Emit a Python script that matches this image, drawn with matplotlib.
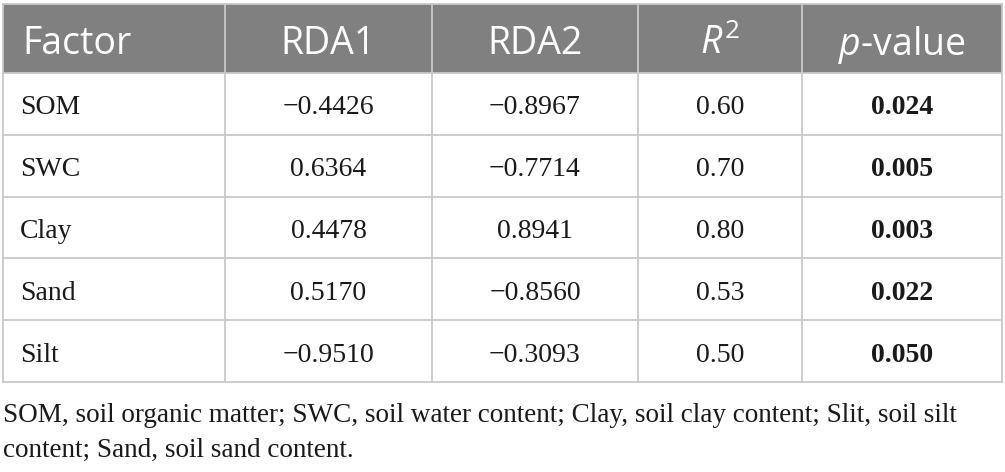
import matplotlib
matplotlib.use("Agg")
import matplotlib.pyplot as plt
from matplotlib.patches import Rectangle

plt.rcParams["mathtext.fontset"] = "custom"
plt.rcParams["mathtext.rm"] = "Open Sans"
plt.rcParams["mathtext.it"] = "Open Sans:italic"

# ---- data ----
headers = ["Factor", "RDA1", "RDA2", "$\\mathit{R}^{2}$", "$\\mathit{p}$-value"]
factors = ["SOM", "SWC", "Clay", "Sand", "Silt"]
rda1 = ["\u22120.4426", "0.6364", "0.4478", "0.5170", "\u22120.9510"]
rda2 = ["\u22120.8967", "\u22120.7714", "0.8941", "\u22120.8560", "\u22120.3093"]
r2 = ["0.60", "0.70", "0.80", "0.53", "0.50"]
pvals = ["0.024", "0.005", "0.003", "0.022", "0.050"]
footnote_lines = [
    "SOM, soil organic matter; SWC, soil water content; Clay, soil clay content; Slit, soil silt",
    "content; Sand, soil sand content.",
]

# ---- layout (pixels) ----
W, H = 1005, 472
col_edges = [3, 225, 432, 638, 802, 1002]
header_top, header_bot = 4, 73
row_h = 61.8
grid_col = "#c9c9c9"
head_col = "#808080"

fig = plt.figure(figsize=(W / 100, H / 100), dpi=100)
ax = fig.add_axes([0, 0, 1, 1])
ax.set_xlim(0, W)
ax.set_ylim(H, 0)
ax.axis("off")

ax.add_patch(Rectangle((col_edges[0], header_top), col_edges[-1] - col_edges[0],
                       header_bot - header_top, facecolor=head_col, edgecolor="none", zorder=1))

n_rows = len(factors)
table_bot = header_bot + n_rows * row_h

for x in col_edges:
    ax.plot([x, x], [header_top, table_bot], color=grid_col, lw=1.3, zorder=2)
ax.plot([col_edges[0], col_edges[-1]], [header_top, header_top], color=grid_col, lw=1.3, zorder=2)
for i in range(n_rows + 1):
    y = header_bot + i * row_h
    ax.plot([col_edges[0], col_edges[-1]], [y, y], color=grid_col, lw=1.3, zorder=2)

centers = [(col_edges[i] + col_edges[i + 1]) / 2 for i in range(len(col_edges) - 1)]
head_font = dict(family="Open Sans", fontsize=27, color="white")
body_font = dict(family="Liberation Serif", fontsize=20, color="#1a1a1a")

hy = (header_top + header_bot) / 2 + 1
for i, h in enumerate(headers):
    if i == 0:
        ax.text(col_edges[0] + 19, hy, h, ha="left", va="center_baseline", zorder=3, **head_font)
    else:
        ax.text(centers[i], hy, h, ha="center", va="center_baseline", zorder=3, **head_font)

for r in range(n_rows):
    y = header_bot + (r + 0.5) * row_h + 1
    ax.text(col_edges[0] + 17, y, factors[r], ha="left", va="center_baseline", **body_font)
    ax.text(centers[1], y, rda1[r], ha="center", va="center_baseline", **body_font)
    ax.text(centers[2], y, rda2[r], ha="center", va="center_baseline", **body_font)
    ax.text(centers[3], y, r2[r], ha="center", va="center_baseline", **body_font)
    ax.text(centers[4], y, pvals[r], ha="center", va="center_baseline", fontweight="bold", **body_font)

for i, line in enumerate(footnote_lines):
    ax.text(3, 413 + i * 34, line, ha="left", va="center_baseline",
            family="Liberation Serif", fontsize=19.5, color="#1a1a1a")

fig.savefig("out.png", dpi=100)
